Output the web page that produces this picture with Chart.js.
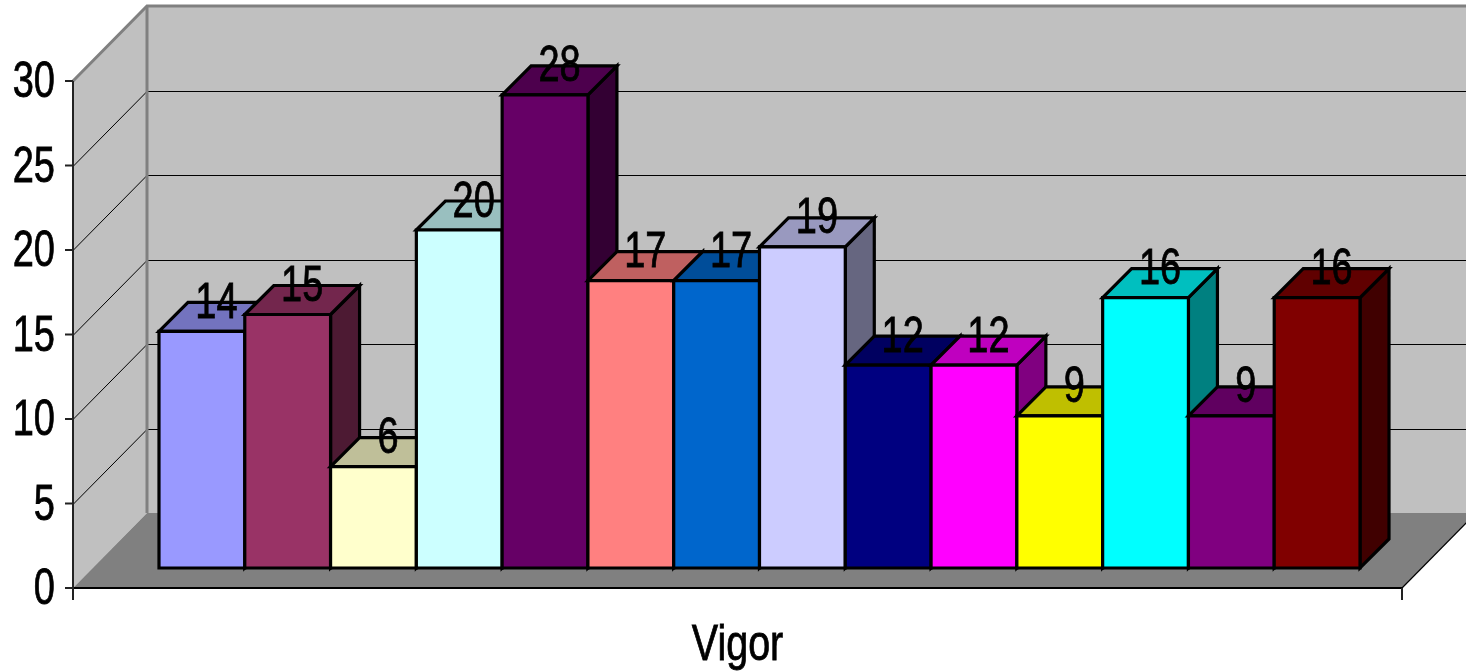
<!DOCTYPE html>
<html>
<head>
<meta charset="utf-8">
<script src="https://cdn.jsdelivr.net/npm/chart.js@4.4.0/dist/chart.umd.min.js"></script>
<style>
  html, body { margin: 0; padding: 0; background: #ffffff; }
  #wrap { width: 1466px; height: 672px; position: relative; }
</style>
</head>
<body>
<div id="wrap"><canvas id="c"></canvas></div>
<script>
// ---- data ----
const categories = ['Vigor'];
const seriesNames = ['1', '2', '3', '4', '5', '6', '7', '8', '9', '10', '11', '12', '13', '14'];
const seriesValues = [14, 15, 6, 20, 28, 17, 17, 19, 12, 12, 9, 16, 9, 16];
const seriesColors = ['#9999FF', '#993366', '#FFFFCC', '#CCFFFF', '#660066', '#FF8080', '#0066CC',
                      '#CCCCFF', '#000080', '#FF00FF', '#FFFF00', '#00FFFF', '#800080', '#800000'];
const yTickValues = [0, 5, 10, 15, 20, 25, 30];
const yTickLabels = ['0', '5', '10', '15', '20', '25', '30'];

// ---- style constants ----
const FONT = "'Liberation Sans Narrow', 'Arial Narrow', 'Liberation Sans', Arial, sans-serif";
const FONT_SIZE = 50;
const NUM_SX = 0.76;      // horizontal squeeze for digits (narrow look)
const TITLE_SX = 0.79;    // horizontal squeeze for the category label
const FX = 22, FY = 20;   // front plane offset from bar plane
const BX = 52, BY = 55;   // back plane offset from bar plane
const D = 29;             // bar depth

function shade(hex, f) {
  const n = parseInt(hex.slice(1), 16);
  const r = Math.round(((n >> 16) & 255) * f);
  const g = Math.round(((n >> 8) & 255) * f);
  const b = Math.round((n & 255) * f);
  return `rgb(${r},${g},${b})`;
}
function poly(ctx, pts, fill, stroke, lw) {
  ctx.beginPath();
  ctx.moveTo(pts[0][0], pts[0][1]);
  for (let i = 1; i < pts.length; i++) ctx.lineTo(pts[i][0], pts[i][1]);
  ctx.closePath();
  if (fill) { ctx.fillStyle = fill; ctx.fill(); }
  if (stroke) { ctx.strokeStyle = stroke; ctx.lineWidth = lw; ctx.stroke(); }
}
function seg(ctx, x1, y1, x2, y2) {
  ctx.beginPath(); ctx.moveTo(x1, y1); ctx.lineTo(x2, y2); ctx.stroke();
}
function text(ctx, str, x, y, align, sx) {
  ctx.save();
  ctx.translate(x, y);
  ctx.scale(sx, 1);
  ctx.fillStyle = '#000';
  ctx.strokeStyle = '#000';
  ctx.lineWidth = 0.8;
  ctx.font = `${FONT_SIZE}px ${FONT}`;
  ctx.textAlign = align;
  ctx.textBaseline = 'alphabetic';
  ctx.fillText(str, 0, 0);
  ctx.strokeText(str, 0, 0);
  ctx.restore();
}

const frame3d = {
  id: 'frame3d',
  beforeDatasetsDraw(chart) {
    const { ctx, chartArea: a, scales: { y } } = chart;
    const fxL = a.left - FX, fxR = a.right - FX, bxL = a.left + BX, bxR = a.right + BX;
    const yf = v => y.getPixelForValue(v) + FY;
    const yb = v => y.getPixelForValue(v) - BY;
    const v0 = y.min, v1 = y.max;
    ctx.save();
    // walls and floor
    poly(ctx, [[fxL, yf(v0)], [fxL, yf(v1)], [bxL, yb(v1)], [bxL, yb(v0)]], '#C0C0C0');
    poly(ctx, [[bxL, yb(v1)], [bxR, yb(v1)], [bxR, yb(v0)], [bxL, yb(v0)]], '#C0C0C0');
    poly(ctx, [[fxL, yf(v0)], [fxR, yf(v0)], [bxR, yb(v0)], [bxL, yb(v0)]], '#808080');
    // gridlines
    ctx.strokeStyle = '#000'; ctx.lineWidth = 1;
    y.ticks.forEach(t => {
      if (t.value <= v0 || t.value >= v1) return;
      const a1 = Math.round(yf(t.value)) + 0.5, b1 = Math.round(yb(t.value)) + 0.5;
      seg(ctx, fxL, a1, bxL, b1);
      seg(ctx, bxL, b1, bxR, b1);
    });
    // wall edges
    ctx.strokeStyle = '#808080'; ctx.lineWidth = 3; ctx.lineJoin = 'miter';
    ctx.beginPath();
    ctx.moveTo(fxL, yf(v1)); ctx.lineTo(bxL, yb(v1)); ctx.lineTo(bxR + 5, yb(v1));
    ctx.stroke();
    seg(ctx, bxL, yb(v1), bxL, yb(v0));
    // floor edges & axis
    ctx.strokeStyle = '#000'; ctx.lineWidth = 2;
    seg(ctx, fxL, yf(v0), fxR, yf(v0));
    ctx.lineWidth = 1.2;
    seg(ctx, fxR, yf(v0), bxR, yb(v0));
    ctx.strokeStyle = '#222'; ctx.lineWidth = 2;
    seg(ctx, fxL, yf(v1), fxL, yf(v0) + 12);
    seg(ctx, fxR, yf(v0), fxR, yf(v0) + 12);
    y.ticks.forEach(t => seg(ctx, fxL - 8, yf(t.value), fxL, yf(t.value)));
    ctx.restore();
  },
  afterDatasetsDraw(chart) {
    const { ctx, chartArea: a, scales: { x, y } } = chart;
    ctx.save();
    ctx.lineJoin = 'miter';
    const items = [];
    chart.data.datasets.forEach((ds, i) => {
      const el = chart.getDatasetMeta(i).data[0];
      const p = el.getProps(['x', 'y', 'base', 'width'], true);
      const l = p.x - p.width / 2, r = p.x + p.width / 2, t = p.y, b = p.base;
      const col = ds.backgroundColor;
      poly(ctx, [[r, t], [r + D, t - D], [r + D, b - D], [r, b]], shade(col, 0.5), '#000', 3.2);
      poly(ctx, [[l, t], [l + D, t - D], [r + D, t - D], [r, t]], shade(col, 0.75), '#000', 3.2);
      poly(ctx, [[l, t], [r, t], [r, b], [l, b]], col, '#000', 3.2);
      items.push({ x: p.x + D / 2, y: t - D / 2 + 1, v: ds.data[0] });
    });
    // data labels
    items.forEach(it => text(ctx, String(it.v), it.x, it.y, 'center', NUM_SX));
    // y axis labels (front plane)
    const fxL = a.left - FX;
    yTickValues.forEach((v, i) => {
      text(ctx, yTickLabels[i], fxL - 18, y.getPixelForValue(v) + FY + 16, 'right', NUM_SX);
    });
    // category label (front plane)
    categories.forEach((c, i) => {
      text(ctx, c, x.getPixelForTick(i) - FX, y.getPixelForValue(y.min) + FY + 72, 'center', TITLE_SX);
    });
    ctx.restore();
  }
};

const datasets = seriesValues.map((v, i) => ({
  label: seriesNames[i],
  data: [v],
  backgroundColor: seriesColors[i],
  borderWidth: 0
}));

new Chart(document.getElementById('c'), {
  type: 'bar',
  data: { labels: categories, datasets },
  plugins: [frame3d],
  options: {
    responsive: true,
    maintainAspectRatio: false,
    animation: false,
    layout: { padding: { left: 0, right: 42, top: 61, bottom: 0 } },
    datasets: { bar: { categoryPercentage: 0.9037, barPercentage: 1 } },
    plugins: { legend: { display: false }, tooltip: { enabled: false } },
    scales: {
      x: {
        grid: { display: false, drawTicks: false },
        border: { display: false },
        ticks: { display: false },
        afterFit: s => { s.height = 104; }
      },
      y: {
        min: 0, max: 30,
        afterBuildTicks: s => { s.ticks = yTickValues.map(v => ({ value: v })); },
        grid: { display: false, drawTicks: false },
        border: { display: false },
        ticks: { display: false },
        afterFit: s => { s.width = 95; }
      }
    }
  }
});
</script>
</body>
</html>
